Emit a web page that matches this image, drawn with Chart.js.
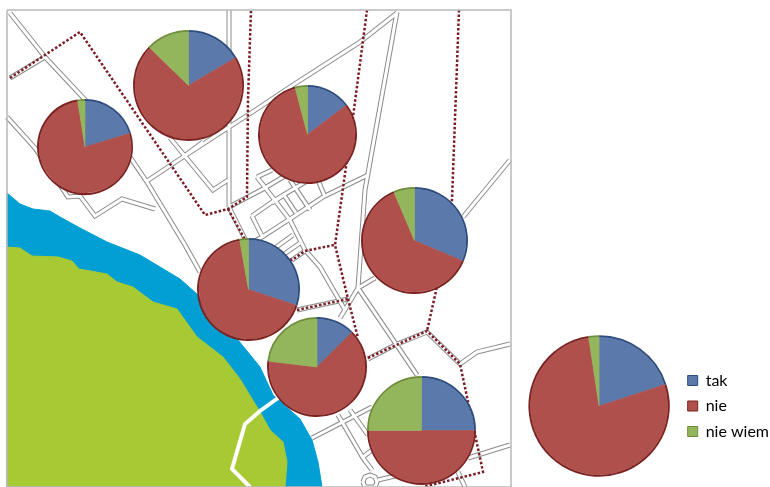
<!DOCTYPE html>
<html>
<head>
<meta charset="utf-8">
<script src="https://cdn.jsdelivr.net/npm/chart.js@4"></script>
<style>
  html, body { margin: 0; padding: 0; background: #fff; overflow: hidden; }
  #page { position: relative; width: 770px; height: 487px; overflow: hidden; filter: blur(0.55px); }
  #page canvas { position: absolute; }
</style>
</head>
<body>
<div id="page"><canvas id="mapChart" width="770" height="487" style="left:0;top:0"></canvas></div>
<script>
const labels = ['tak', 'nie', 'nie wiem'];

// share of answers per pie, last one is the whole-town pie next to the legend
const tak = [20.3, 16.5, 14.7, 31.4, 30.1, 12.5, 25, 20];
const nie = [77.2, 70.8, 81.2, 62.2, 67.1, 64.4, 50, 77.6];
const nieWiem = [2.5, 12.7, 4.1, 6.4, 2.8, 23.1, 25, 2.4];

// where each pie sits on the map (map units = picture pixels)
const pieX = [85, 188.7, 307, 414, 248.5, 317.3, 421.7, 599.3];
const pieY = [147, 85, 134.5, 240.5, 289.5, 367.3, 430, 406];
const pieR = [48, 55.5, 49.5, 53.5, 51.5, 50, 54.5, 70.7];

const sliceColors = ['#5b79ab', '#b0504c', '#93b55c'];
const rimColors = ['#2d4c80', '#7c2220', '#6f8e38'];

// map geometry
const river = [[7,193],[20,204],[33,209],[50,211],[60,217],[80,228],[107,242],[140,255],[180,279],[197,294],[238,340],[260,367],[273,395],[300,419],[312,440],[318,462],[322,487],[7,487],[7,193]];
const land = [[7,247],[20,248],[32,256],[58,257],[72,261],[79,269],[107,274],[117,282],[133,287],[153,302],[177,309],[197,337],[223,357],[240,379],[260,412],[270,430],[283,442],[287,462],[285,487],[7,487],[7,247]];
const whiteRoad = [[278,398],[260,411],[245,424],[232,469],[250,487]];
const frame = [[7,10],[511,10],[511,487],[7,487],[7,10]];

const roads = [
  [[10,13],[45,57],[90,105],[132,160],[147,182],[185,245],[200,272]],
  [[7,117],[35,148],[66,194],[68,197],[80,196],[95,216],[122,199],[155,209]],
  [[10,78],[45,57]],
  [[147,181],[183,157],[260,107],[293,85],[360,42],[397,13]],
  [[397,12],[365,190],[358,288]],
  [[368,175],[323,197],[293,217],[262,237],[248,245]],
  [[229,10],[229,207]],
  [[170,138],[213,190],[228,180]],
  [[203,142],[183,157]],
  [[229,207],[263,189],[300,167]],
  [[229,207],[248,245]],
  [[257,177],[272,170]],
  [[257,177],[290,220],[305,250],[320,267],[345,310]],
  [[252,216],[275,200],[322,172]],
  [[252,216],[263,238]],
  [[290,180],[310,210]],
  [[318,180],[325,197]],
  [[272,203],[284,195],[296,213]],
  [[275,248],[293,235]],
  [[280,257],[300,243]],
  [[292,260],[305,251]],
  [[297,310],[348,299]],
  [[358,288],[417,375]],
  [[358,288],[375,278]],
  [[358,288],[340,318]],
  [[368,359],[395,345],[427,332],[460,364],[477,352],[510,344]],
  [[463,217],[510,160]],
  [[312,438],[372,407]],
  [[338,415],[363,458],[372,470]],
  [[350,410],[368,435]],
  [[363,457],[372,450]],
  [[378,480],[395,476]],
  [[468,458],[510,445]],
  [[458,472],[465,487]],
  [[363,482],[365,477],[370,475],[375,477],[377,482],[375,487],[365,487],[363,482]]
];

const dashed = [
  [[10,78],[80,32],[205,215],[228,209],[247,197],[248,100],[251,10]],
  [[228,209],[248,245],[292,260],[305,251],[334,245]],
  [[367,10],[353,117],[335,245],[348,299],[358,338]],
  [[297,310],[348,299]],
  [[368,358],[427,331],[460,364],[476,439],[483,472],[423,487]],
  [[459,10],[452,200],[436,291],[427,331]]
];

function toPoints(line) {
  return line.map(p => ({ x: p[0], y: p[1] }));
}

function lineSet(line, color, width, extra) {
  return Object.assign({
    data: toPoints(line),
    showLine: true,
    borderColor: color,
    borderWidth: width,
    pointRadius: 0,
    tension: 0,
    fill: false
  }, extra || {});
}

// listed bottom to top, chart.js paints the first dataset last so it gets reversed
const layers = [
  lineSet(river, '#029fd4', 1, { fill: 'shape', backgroundColor: '#029fd4' }),
  lineSet(land, '#a6c934', 1, { fill: 'shape', backgroundColor: '#a6c934' }),
  lineSet(whiteRoad, '#ffffff', 4)
];
roads.forEach(r => layers.push(lineSet(r, '#8b8b8b', 5)));
roads.forEach(r => layers.push(lineSet(r, '#ffffff', 3)));
dashed.forEach(d => layers.push(lineSet(d, '#7b1c26', 2.5, { borderDash: [2.5, 2] })));
layers.push(lineSet(frame, '#b9b9b9', 1.5));

const mapChart = new Chart(document.getElementById('mapChart'), {
  type: 'scatter',
  data: { datasets: layers.reverse() },
  options: {
    responsive: false,
    animation: false,
    events: [],
    scales: {
      x: { type: 'linear', min: 0, max: 770, display: false },
      y: { type: 'linear', min: 0, max: 487, reverse: true, display: false }
    },
    plugins: { legend: { display: false }, tooltip: { enabled: false } }
  }
});

const page = document.getElementById('page');

function pieOptions(radius, withLegend) {
  return {
    responsive: false,
    animation: false,
    events: [],
    radius: radius,
    cutout: 0,
    layout: { padding: 0 },
    plugins: {
      tooltip: { enabled: false },
      legend: withLegend ? {
        display: true,
        position: 'right',
        labels: {
          boxWidth: 10,
          boxHeight: 10,
          padding: 9.5,
          color: '#222222',
          font: { family: 'Lato', size: 16 },
          generateLabels: () => labels.map((text, i) => ({
            text: text,
            fillStyle: sliceColors[i],
            strokeStyle: rimColors[i],
            lineWidth: 1,
            index: i
          }))
        }
      } : { display: false }
    }
  };
}

tak.forEach((_, i) => {
  const whole = i === tak.length - 1;
  const r = pieR[i];
  const canvas = document.createElement('canvas');
  // the last pie shares its canvas with the legend, which runs up to the window edge
  const w = whole ? 259 : Math.ceil(r * 2 + 4);
  const h = whole ? 150 : w;
  canvas.width = w;
  canvas.height = h;
  canvas.style.left = (whole ? 520 : mapChart.scales.x.getPixelForValue(pieX[i]) - w / 2) + 'px';
  canvas.style.top = (mapChart.scales.y.getPixelForValue(pieY[i]) - h / 2) + 'px';
  page.appendChild(canvas);
  const values = [tak[i], nie[i], nieWiem[i]];
  new Chart(canvas, {
    type: 'pie',
    data: {
      labels: labels,
      datasets: [
        { data: values, backgroundColor: rimColors, borderWidth: 0, weight: 1.9 },
        { data: values, backgroundColor: sliceColors, borderColor: sliceColors, borderWidth: 0.6, weight: r - 1.9 }
      ]
    },
    options: pieOptions(r, whole)
  });
});
</script>
</body>
</html>
